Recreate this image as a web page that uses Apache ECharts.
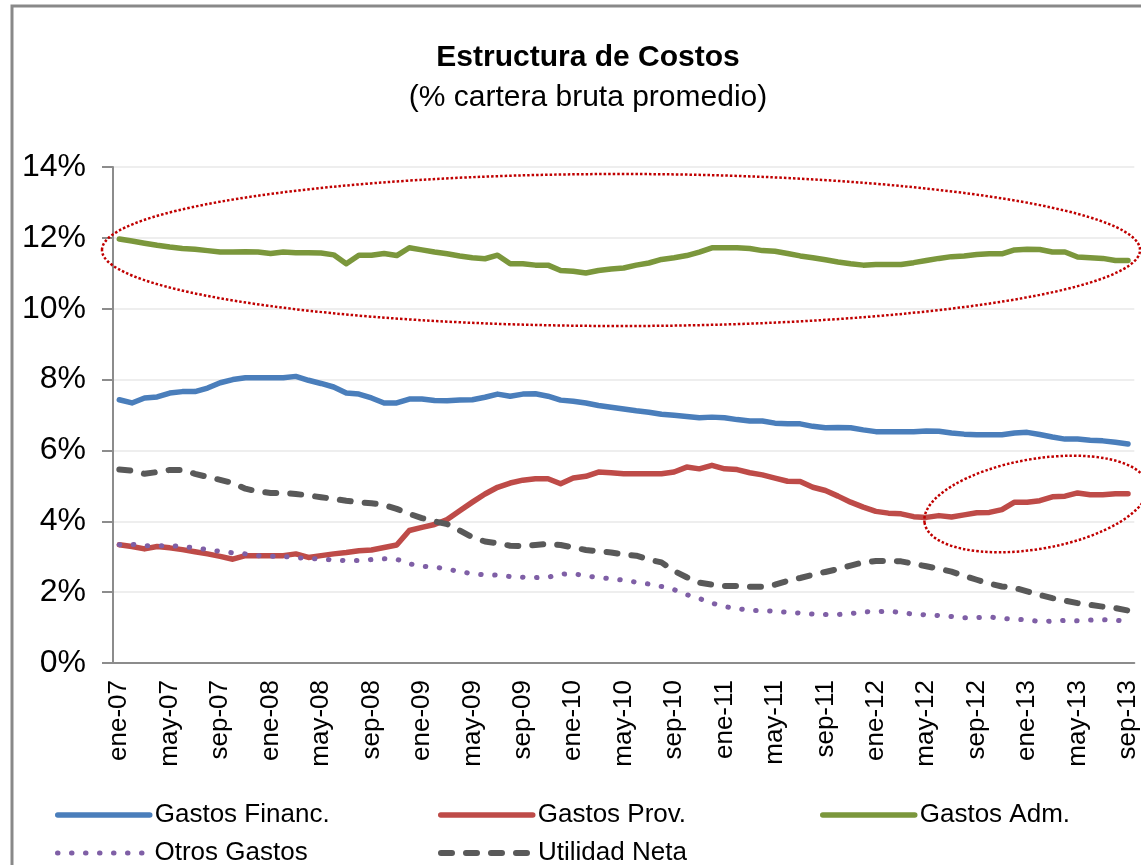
<!DOCTYPE html>
<html>
<head>
<meta charset="utf-8">
<title>Estructura de Costos</title>
<script src="https://cdn.jsdelivr.net/npm/echarts@6/dist/echarts.min.js"></script>
<style>
  html, body { margin: 0; padding: 0; background: #fff; }
  #main { width: 1141px; height: 865px; }
</style>
</head>
<body>
<div id="main"></div>
<script>
// meses ene-07 .. sep-13
var mesesAbr = ['ene', 'feb', 'mar', 'abr', 'may', 'jun', 'jul', 'ago', 'sep', 'oct', 'nov', 'dic'];
var anios = ['07', '08', '09', '10', '11', '12', '13'];
var meses = [];
anios.forEach(function (a) {
  mesesAbr.forEach(function (m) { meses.push(m + '-' + a); });
});
meses = meses.slice(0, 81);

var gastosFinanc = [7.43, 7.34, 7.48, 7.51, 7.62, 7.66, 7.66, 7.76, 7.91, 8.00, 8.05, 8.05, 8.05, 8.05, 8.09, 7.98,
  7.89, 7.79, 7.62, 7.59, 7.48, 7.34, 7.34, 7.45, 7.45, 7.41, 7.40, 7.42, 7.43, 7.50, 7.59, 7.53,
  7.59, 7.60, 7.53, 7.42, 7.39, 7.34, 7.27, 7.22, 7.17, 7.12, 7.08, 7.02, 6.99, 6.96, 6.92, 6.94,
  6.92, 6.87, 6.83, 6.83, 6.77, 6.75, 6.75, 6.68, 6.64, 6.65, 6.64, 6.58, 6.53, 6.53, 6.53, 6.53,
  6.55, 6.54, 6.49, 6.46, 6.44, 6.44, 6.44, 6.49, 6.51, 6.45, 6.38, 6.32, 6.32, 6.29, 6.27, 6.23, 6.18];

var gastosProv = [3.34, 3.29, 3.22, 3.29, 3.25, 3.20, 3.14, 3.08, 3.01, 2.93, 3.03, 3.03, 3.03, 3.03, 3.08, 2.98,
  3.03, 3.08, 3.12, 3.17, 3.19, 3.26, 3.33, 3.74, 3.83, 3.91, 4.05, 4.30, 4.54, 4.77, 4.96, 5.08,
  5.16, 5.20, 5.20, 5.06, 5.22, 5.27, 5.39, 5.37, 5.34, 5.34, 5.34, 5.34, 5.39, 5.53, 5.48, 5.58,
  5.48, 5.46, 5.37, 5.31, 5.22, 5.13, 5.12, 4.96, 4.87, 4.71, 4.54, 4.40, 4.28, 4.23, 4.21, 4.13,
  4.11, 4.16, 4.12, 4.18, 4.24, 4.25, 4.33, 4.54, 4.54, 4.58, 4.69, 4.71, 4.80, 4.75, 4.75, 4.78, 4.78];

var gastosAdm = [11.97, 11.91, 11.85, 11.79, 11.74, 11.70, 11.68, 11.64, 11.60, 11.60, 11.61, 11.60, 11.56, 11.60, 11.58, 11.58,
  11.57, 11.52, 11.27, 11.51, 11.51, 11.56, 11.50, 11.72, 11.66, 11.60, 11.55, 11.49, 11.44, 11.41, 11.51, 11.27,
  11.27, 11.23, 11.23, 11.08, 11.06, 11.01, 11.08, 11.12, 11.15, 11.23, 11.29, 11.39, 11.44, 11.50, 11.60, 11.72,
  11.72, 11.72, 11.70, 11.64, 11.62, 11.56, 11.49, 11.44, 11.38, 11.32, 11.27, 11.23, 11.25, 11.25, 11.25, 11.30,
  11.36, 11.42, 11.47, 11.49, 11.53, 11.55, 11.55, 11.66, 11.68, 11.67, 11.60, 11.60, 11.46, 11.44, 11.42, 11.36, 11.36];

var otrosGastos = [3.34, 3.35, 3.31, 3.31, 3.31, 3.29, 3.25, 3.20, 3.15, 3.11, 3.08, 3.03, 3.01, 3.01, 2.97, 2.96,
  2.93, 2.91, 2.89, 2.89, 2.92, 2.94, 2.93, 2.80, 2.73, 2.71, 2.65, 2.58, 2.52, 2.49, 2.48, 2.44,
  2.42, 2.41, 2.42, 2.51, 2.52, 2.46, 2.41, 2.38, 2.34, 2.28, 2.23, 2.16, 2.07, 1.93, 1.82, 1.69,
  1.59, 1.54, 1.48, 1.48, 1.46, 1.43, 1.41, 1.38, 1.37, 1.37, 1.39, 1.45, 1.44, 1.47, 1.42, 1.38,
  1.36, 1.34, 1.31, 1.28, 1.28, 1.30, 1.26, 1.23, 1.22, 1.17, 1.18, 1.20, 1.19, 1.21, 1.22, 1.21, 1.18];

var utilidadNeta = [5.46, 5.43, 5.34, 5.39, 5.45, 5.45, 5.34, 5.25, 5.17, 5.08, 4.92, 4.84, 4.80, 4.80, 4.77, 4.73,
  4.68, 4.63, 4.58, 4.54, 4.51, 4.46, 4.35, 4.21, 4.09, 4.00, 3.92, 3.74, 3.55, 3.43, 3.38, 3.31,
  3.30, 3.33, 3.36, 3.33, 3.26, 3.19, 3.15, 3.12, 3.06, 3.03, 2.92, 2.84, 2.60, 2.42, 2.27, 2.21,
  2.17, 2.17, 2.15, 2.15, 2.21, 2.32, 2.40, 2.49, 2.57, 2.65, 2.75, 2.84, 2.88, 2.88, 2.87, 2.80,
  2.73, 2.66, 2.58, 2.46, 2.35, 2.24, 2.16, 2.12, 2.02, 1.92, 1.83, 1.76, 1.69, 1.64, 1.59, 1.55, 1.48];

var fuente = "'Liberation Sans Narrow', 'Arial Narrow', 'Liberation Sans', Arial, sans-serif";

var estilos = {
  'Gastos Financ.': { color: '#4a7ebb', width: 5.5 },
  'Gastos Prov.': { color: '#be4b48', width: 5.5 },
  'Gastos Adm.': { color: '#7b973c', width: 5.5 },
  'Otros Gastos': { color: '#7f5fa6', width: 5, type: [0.5, 13.5] },
  'Utilidad Neta': { color: '#595959', width: 6, type: [11, 14] }
};

var chartDom = document.getElementById('main');
var myChart = echarts.init(chartDom);

function leyenda(nombre, left, top) {
  var est = estilos[nombre];
  return {
    data: [{
      name: nombre,
      itemStyle: { opacity: 0 },
      lineStyle: { color: est.color, width: est.width, type: est.type || 'solid', cap: 'round' }
    }],
    left: left,
    top: top,
    itemWidth: 92,
    itemHeight: 14,
    selectedMode: false,
    textStyle: { fontFamily: fuente, fontSize: 26, color: '#000', lineHeight: 30 }
  };
}

function serie(nombre, datos) {
  var est = estilos[nombre];
  return {
    name: nombre,
    type: 'line',
    data: datos,
    symbol: 'none',
    color: est.color,
    lineStyle: { color: est.color, width: est.width, type: est.type || 'solid', cap: 'round', join: 'round' }
  };
}

var option = {
  animation: false,
  backgroundColor: '#fff',
  textStyle: { fontFamily: fuente },
  title: {
    text: 'Estructura de Costos',
    subtext: '(% cartera bruta promedio)',
    left: 583,
    top: 38,
    textAlign: 'center',
    itemGap: 10,
    textStyle: { fontFamily: fuente, fontSize: 30, fontWeight: 'bold', color: '#000' },
    subtextStyle: { fontFamily: fuente, fontSize: 30, color: '#000' }
  },
  legend: [
    leyenda('Gastos Financ.', 50, 795),
    leyenda('Gastos Prov.', 433, 795),
    leyenda('Gastos Adm.', 815, 795),
    leyenda('Otros Gastos', 50, 833),
    leyenda('Utilidad Neta', 433, 833)
  ],
  grid: { left: 113, right: 3, top: 167, bottom: 202 },
  xAxis: {
    type: 'category',
    data: meses,
    boundaryGap: true,
    axisLine: { lineStyle: { color: '#8c8c8c', width: 2 } },
    axisTick: { interval: 3, length: 11, lineStyle: { color: '#8c8c8c', width: 2 } },
    axisLabel: { interval: 3, rotate: 90, margin: 17, fontFamily: fuente, fontSize: 26, color: '#000' },
    splitLine: { show: false }
  },
  yAxis: {
    type: 'value',
    min: 0,
    max: 14,
    interval: 2,
    axisLine: { show: true, lineStyle: { color: '#8c8c8c', width: 2 } },
    axisTick: { show: true, length: 11, lineStyle: { color: '#8c8c8c', width: 2 } },
    axisLabel: { formatter: '{value}%', margin: 27, fontFamily: fuente, fontSize: 32, color: '#000' },
    splitLine: { lineStyle: { color: '#eeeeee', width: 2 } }
  },
  series: [
    serie('Gastos Financ.', gastosFinanc),
    serie('Gastos Prov.', gastosProv),
    serie('Gastos Adm.', gastosAdm),
    serie('Otros Gastos', otrosGastos),
    serie('Utilidad Neta', utilidadNeta)
  ],
  graphic: [
    // marco del grafico
    {
      type: 'rect',
      shape: { x: 12, y: 6, width: 1200, height: 900 },
      style: { fill: null, stroke: '#898989', lineWidth: 3 },
      silent: true
    },
    // elipses de resaltado
    {
      type: 'ellipse',
      shape: { cx: 621, cy: 250, rx: 519, ry: 76 },
      style: { fill: null, stroke: '#c00000', lineWidth: 2.5, lineDash: [2.5, 2] },
      z: 100,
      silent: true
    },
    {
      type: 'ellipse',
      x: 1036,
      y: 504,
      rotation: 9.7 * Math.PI / 180,
      shape: { cx: 0, cy: 0, rx: 113, ry: 45 },
      style: { fill: null, stroke: '#c00000', lineWidth: 2.5, lineDash: [2.5, 2] },
      z: 100,
      silent: true
    }
  ]
};

myChart.setOption(option);
</script>
</body>
</html>
